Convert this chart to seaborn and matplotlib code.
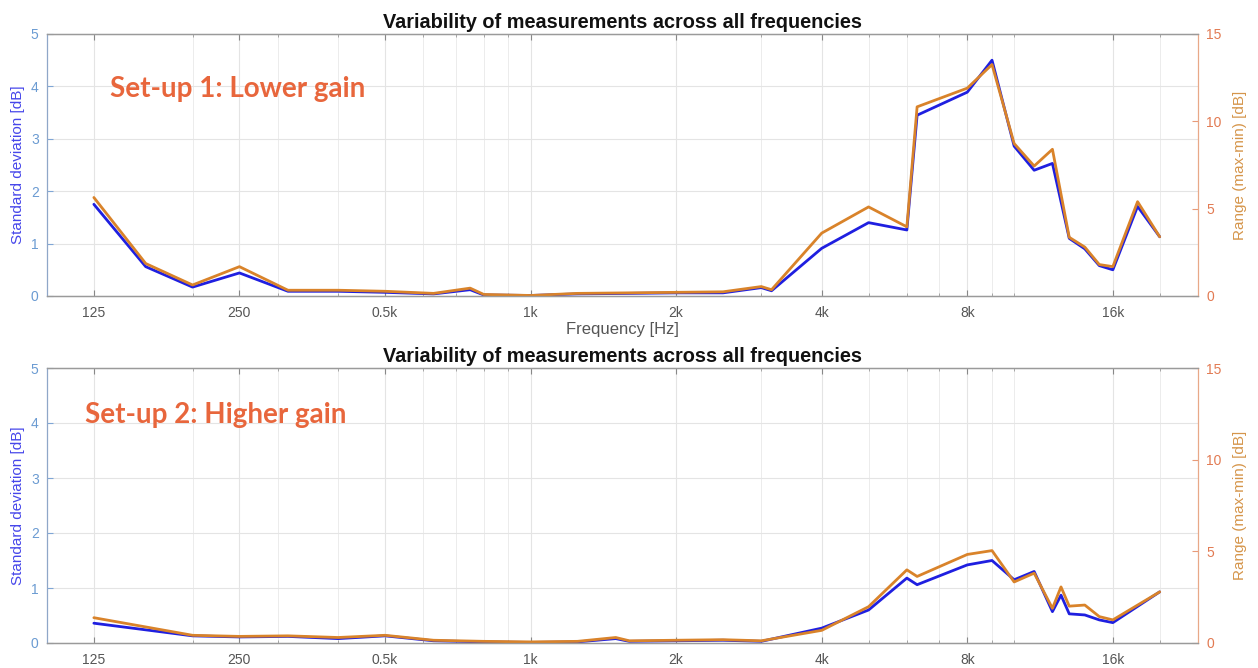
import matplotlib
matplotlib.use("Agg")
import matplotlib.pyplot as plt
import numpy as np
import pandas as pd
import seaborn as sns
from matplotlib.ticker import FixedLocator, LogLocator, NullFormatter

# Set-up 1 (lower gain): frequency [Hz], standard deviation [dB], range max-min [dB]
freq_1 = [125, 160, 200, 250, 315, 400, 500, 630, 750, 800, 1000, 1250, 1600,
          2000, 2500, 3000, 3150, 4000, 5000, 6000, 6300, 8000, 9000, 10000,
          11000, 12000, 13000, 14000, 15000, 16000, 18000, 20000]
std_1 = [1.75, 0.56, 0.17, 0.44, 0.09, 0.09, 0.07, 0.04, 0.12, 0.02, 0.01, 0.04,
         0.05, 0.06, 0.06, 0.16, 0.10, 0.91, 1.40, 1.26, 3.45, 3.89, 4.50, 2.86,
         2.40, 2.53, 1.10, 0.90, 0.58, 0.50, 1.71, 1.13]
range_1 = [5.64, 1.86, 0.63, 1.68, 0.33, 0.33, 0.27, 0.15, 0.45, 0.09, 0.03, 0.15,
           0.18, 0.21, 0.24, 0.54, 0.36, 3.60, 5.10, 3.96, 10.83, 11.90, 13.25,
           8.73, 7.44, 8.40, 3.36, 2.80, 1.80, 1.68, 5.40, 3.39]

# Set-up 2 (higher gain)
freq_2 = [125, 200, 250, 315, 400, 500, 630, 800, 1000, 1250, 1500, 1600, 2000,
          2500, 3000, 4000, 5000, 6000, 6300, 8000, 9000, 10000, 11000, 12000,
          12500, 13000, 14000, 15000, 16000, 20000]
std_2 = [0.36, 0.13, 0.11, 0.12, 0.08, 0.13, 0.04, 0.02, 0.01, 0.02, 0.08, 0.03,
         0.04, 0.05, 0.03, 0.27, 0.60, 1.18, 1.06, 1.42, 1.50, 1.15, 1.30, 0.57,
         0.87, 0.53, 0.51, 0.42, 0.37, 0.93]
range_2 = [1.38, 0.42, 0.36, 0.39, 0.30, 0.42, 0.15, 0.09, 0.06, 0.09, 0.30, 0.12,
           0.15, 0.18, 0.12, 0.69, 1.98, 3.99, 3.63, 4.83, 5.04, 3.33, 3.81, 1.89,
           3.06, 2.01, 2.07, 1.44, 1.26, 2.79]

x_ticks = [125, 250, 500, 1000, 2000, 4000, 8000, 16000]
x_tick_labels = ["125", "250", "0.5k", "1k", "2k", "4k", "8k", "16k"]
titles = ["Variability of measurements across all frequencies"] * 2
notes = ["Set-up 1: Lower gain", "Set-up 2: Higher gain"]

BLUE = "#1f1fe0"
ORANGE = "#d9832a"
NOTE_COLOR = "#e8663c"
FRAME = "#9a9a9a"

sns.set_theme(style="white")
plt.rcParams["font.family"] = ["Liberation Sans", "DejaVu Sans"]

fig = plt.figure(figsize=(12.58, 6.68), dpi=100)
W, H = 1258, 668


def rect(left, top, right, bottom):
    return [left / W, 1 - bottom / H, (right - left) / W, (bottom - top) / H]


def panel(box, freqs, sd, rng, title, note, note_pos, show_xlabel):
    ax = fig.add_axes(box)
    ax.set_xscale("log")
    ax2 = ax.twinx()

    df = pd.DataFrame({"freq": freqs, "sd": sd, "rng": rng})
    sns.lineplot(data=df, x="freq", y="sd", ax=ax, color=BLUE, lw=2.0, sort=False)
    sns.lineplot(data=df, x="freq", y="rng", ax=ax2, color=ORANGE, lw=2.0, sort=False)

    ax.set_xlim(100, 24000)
    ax.set_ylim(0, 5)
    ax2.set_ylim(0, 15)

    ax.xaxis.set_major_locator(FixedLocator(x_ticks))
    ax.set_xticklabels(x_tick_labels)
    ax.xaxis.set_minor_locator(LogLocator(base=10, subs=np.arange(1, 10)))
    ax.xaxis.set_minor_formatter(NullFormatter())
    ax.set_yticks([0, 1, 2, 3, 4, 5])
    ax2.set_yticks([0, 5, 10, 15])

    ax.grid(which="major", color="#e4e4e4", lw=0.8)
    ax.grid(which="minor", axis="x", color="#ececec", lw=0.7)
    ax.set_axisbelow(True)

    ax.tick_params(axis="x", which="major", direction="in", top=True, bottom=True,
                   length=4, width=0.8, color="#888888", labelcolor="#555555",
                   labelsize=10, pad=7)
    ax.tick_params(axis="x", which="minor", direction="in", top=True, bottom=True,
                   length=2.5, width=0.6, color="#999999")
    ax.tick_params(axis="y", direction="in", left=True, length=4, width=0.8,
                   color="#7fa6d6", labelcolor="#6b9bd2", labelsize=10, pad=6)
    ax2.tick_params(axis="y", direction="in", right=True, length=4, width=0.8,
                    color="#e89a78", labelcolor="#e27a52", labelsize=10, pad=6)

    for a in (ax, ax2):
        for sp in a.spines.values():
            sp.set_linewidth(0.9)
            sp.set_color(FRAME)
    ax.spines["left"].set_color("#8fa7c8")
    ax2.spines["left"].set_visible(False)
    ax2.spines["right"].set_color("#e8a888")
    ax.spines["right"].set_visible(False)

    ax.set_ylabel("Standard deviation [dB]", color="#4646ea", fontsize=11, labelpad=4)
    ax2.set_ylabel("Range (max-min) [dB]", color="#d5954a", fontsize=11, labelpad=8)
    if show_xlabel:
        ax.set_xlabel("Frequency [Hz]", color="#555555", fontsize=12, labelpad=2)
    else:
        ax.set_xlabel("")

    ax.set_title(title, fontsize=14.3, fontweight="bold", color="#111111", pad=4)
    ax.text(note_pos[0], note_pos[1], note, transform=ax.transAxes,
            ha="left", va="center", fontsize=20, fontweight="bold",
            color=NOTE_COLOR, family=["Lato", "DejaVu Sans"])
    return ax, ax2


panel(rect(47, 34, 1198, 296), freq_1, std_1, range_1, titles[0], notes[0],
      (0.055, 0.79), True)
panel(rect(47, 368, 1198, 643), freq_2, std_2, range_2, titles[1], notes[1],
      (0.033, 0.83), False)

fig.savefig("out.png", dpi=100)
